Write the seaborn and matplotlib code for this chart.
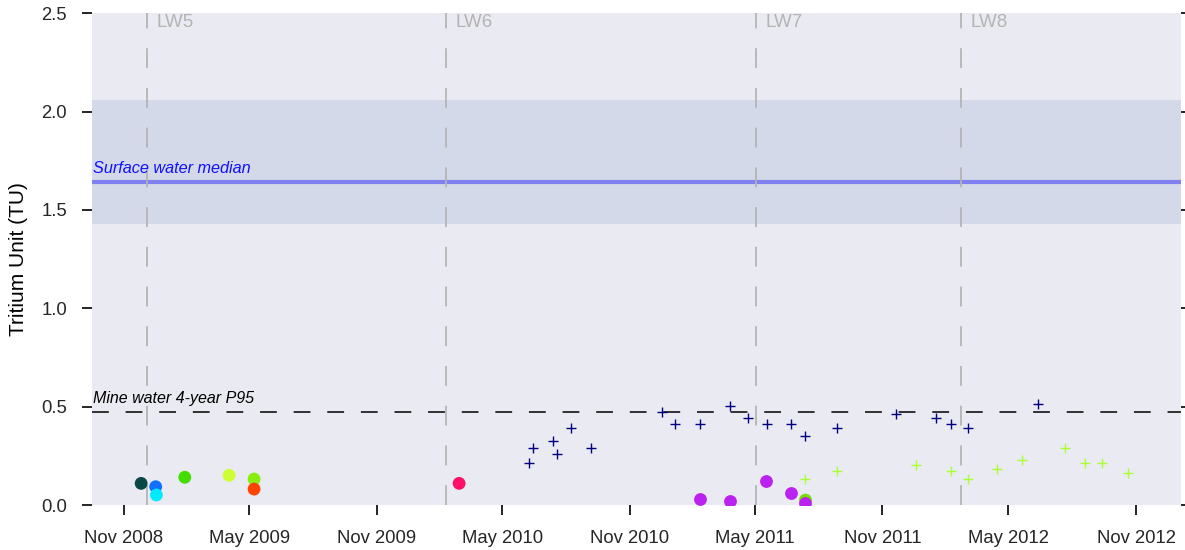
import pandas as pd
import numpy as np
import matplotlib
matplotlib.use('Agg')
import matplotlib.pyplot as plt
import matplotlib.dates as mdates
import seaborn as sns

# single sample bores (circles), one colour each
circ_dates = ['2008-11-26', '2008-12-17', '2008-12-18', '2009-01-28', '2009-04-02',
              '2009-05-08', '2009-05-08', '2010-02-28', '2011-07-13']
circ_vals = [0.110, 0.093, 0.051, 0.141, 0.151, 0.132, 0.081, 0.110, 0.025]
circ_cols = ['#0a4848', '#1170ff', '#00eaff', '#44dd00', '#ccff33',
             '#88ee11', '#ff4400', '#ff0f6a', '#77dd00']

# purple bore
purp_dates = ['2011-02-10', '2011-03-26', '2011-05-17', '2011-06-22', '2011-07-12']
purp_vals = [0.032, 0.020, 0.122, 0.061, 0.008]

# monitoring bore, deep (navy +)
deep_dates = ['2010-06-09', '2010-06-15', '2010-07-14', '2010-07-20', '2010-08-09',
              '2010-09-07', '2010-12-18', '2011-01-06', '2011-02-10', '2011-03-26',
              '2011-04-21', '2011-05-18', '2011-06-22', '2011-07-12', '2011-08-28',
              '2011-11-21', '2012-01-18', '2012-02-08', '2012-03-04', '2012-06-13']
deep_vals = [0.212, 0.290, 0.324, 0.261, 0.391, 0.290, 0.471, 0.412, 0.412, 0.502,
             0.440, 0.412, 0.412, 0.351, 0.391, 0.464, 0.440, 0.412, 0.391, 0.512]

# monitoring bore, shallow (lime +)
shal_dates = ['2011-07-12', '2011-08-28', '2011-12-20', '2012-02-08', '2012-03-04',
              '2012-04-15', '2012-05-20', '2012-07-22', '2012-08-19', '2012-09-13',
              '2012-10-20']
shal_vals = [0.132, 0.171, 0.202, 0.171, 0.132, 0.181, 0.230, 0.290, 0.212, 0.212, 0.161]

lw_names = ['LW5', 'LW6', 'LW7', 'LW8']
lw_dates = ['2008-12-04', '2010-02-09', '2011-05-02', '2012-02-22']

sw_median = 1.64
sw_low, sw_high = 1.428, 2.061
mine_p95 = 0.474

sns.set_theme(style='darkgrid')
plt.rcParams['font.family'] = ['Liberation Sans', 'DejaVu Sans']

fig, ax = plt.subplots(figsize=(11.85, 5.5), dpi=100)
fig.subplots_adjust(left=0.0776, right=0.9966, top=0.976, bottom=0.0818)
ax.grid(False)

ax.axhspan(sw_low, sw_high, color='#d3d9e8', zorder=0, lw=0)
ax.axhline(sw_median, color='#8080f0', lw=3, zorder=1)
ax.axhline(mine_p95, color='black', lw=1.1, dashes=(11, 11), zorder=1)

for name, d in zip(lw_names, lw_dates):
    dd = pd.Timestamp(d)
    ax.axvline(dd, color='#b4b4b4', lw=1.3, dashes=(11, 11), zorder=1)
    ax.text(dd + pd.Timedelta(days=14), 2.495, name, color='#b4b4b4', fontsize=13.5,
            ha='left', va='top')

ax.text(pd.Timestamp('2008-09-17'), sw_median + 0.03, 'Surface water median',
        color='#1010ff', fontsize=11.7, style='italic', va='bottom')
ax.text(pd.Timestamp('2008-09-17'), mine_p95 + 0.03, 'Mine water 4-year P95',
        color='black', fontsize=11.5, style='italic', va='bottom')

deep = pd.DataFrame({'date': pd.to_datetime(deep_dates), 'tu': deep_vals})
shal = pd.DataFrame({'date': pd.to_datetime(shal_dates), 'tu': shal_vals})
purp = pd.DataFrame({'date': pd.to_datetime(purp_dates), 'tu': purp_vals})
circ = pd.DataFrame({'date': pd.to_datetime(circ_dates), 'tu': circ_vals, 'c': circ_cols})

sns.scatterplot(data=circ, x='date', y='tu', hue='c', palette=dict(zip(circ_cols, circ_cols)),
                s=85, linewidth=0, legend=False, ax=ax, zorder=3)
sns.scatterplot(data=purp, x='date', y='tu', color='#bb22f0', s=85, linewidth=0,
                legend=False, ax=ax, zorder=4)
sns.scatterplot(data=deep, x='date', y='tu', color='#000080', marker='+', s=55,
                linewidth=1, legend=False, ax=ax, zorder=5)
sns.scatterplot(data=shal, x='date', y='tu', color='#aaff33', marker='+', s=55,
                linewidth=1, legend=False, ax=ax, zorder=5)

ax.set_xlim(pd.Timestamp('2008-09-16'), pd.Timestamp('2013-01-05'))
ax.set_ylim(0, 2.5)
ax.set_yticks([0, 0.5, 1.0, 1.5, 2.0, 2.5])
ax.yaxis.set_major_formatter(matplotlib.ticker.FormatStrFormatter('%.1f'))
ax.xaxis.set_major_locator(mdates.MonthLocator(bymonth=[5, 11]))
ax.xaxis.set_major_formatter(mdates.DateFormatter('%b %Y'))
ax.tick_params(axis='both', which='major', length=7, width=1.2, color='black',
               direction='out', labelsize=13.3, labelcolor='#262626', pad=11)
ax.tick_params(axis='y', left=True, right=True)
ax.tick_params(axis='x', bottom=True)
ax.set_xlabel('')
ax.set_ylabel('Tritium Unit (TU)', fontsize=15, color='black')
ax.yaxis.set_label_coords(-0.059, 0.5)
for s in ax.spines.values():
    s.set_visible(False)

fig.savefig('out.png', dpi=100)
